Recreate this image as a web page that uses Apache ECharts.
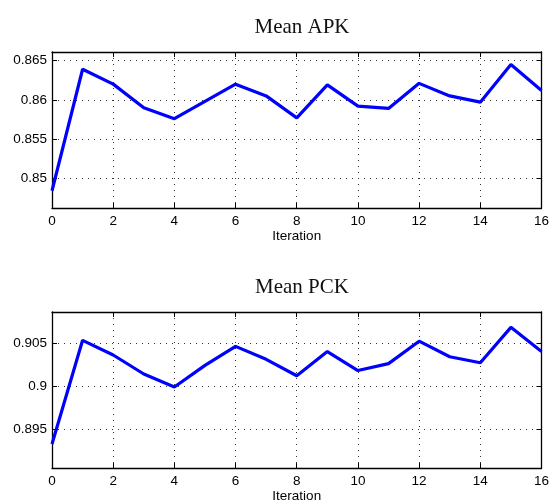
<!DOCTYPE html>
<html>
<head>
<meta charset="utf-8">
<script src="https://cdn.jsdelivr.net/npm/echarts@6/dist/echarts.min.js"></script>
<style>
  html, body { margin: 0; padding: 0; background: #fff; }
  #main { width: 552px; height: 504px; }
</style>
</head>
<body>
<div id="main"></div>
<script>
// iterations 0..16
var iterations = [0, 1, 2, 3, 4, 5, 6, 7, 8, 9, 10, 11, 12, 13, 14, 15, 16];
var meanAPK = [0.8484, 0.8639, 0.8620, 0.8590, 0.8576, 0.8598, 0.8620, 0.8605, 0.8577,
               0.8619, 0.8592, 0.8589, 0.8621, 0.8605, 0.8597, 0.8645, 0.8612];
var meanPCK = [0.8933, 0.9053, 0.9036, 0.9014, 0.8999, 0.9024, 0.9046, 0.9031, 0.9012,
               0.9040, 0.9018, 0.9026, 0.9052, 0.9034, 0.9027, 0.9068, 0.9040];
var titles = ['Mean APK', 'Mean PCK'];
var apkRange = [0.8462, 0.8661];
var pckRange = [0.8905, 0.90858];

var sans = 'Liberation Sans';
var dotted = { color: '#333', width: 1, type: [1, 5] };

function pairs(values) {
    return iterations.map(function (it, i) { return [it, values[i]]; });
}

function xAxes(gridIndex) {
    return [
        {
            gridIndex: gridIndex, type: 'value', min: 0, max: 16, interval: 2,
            position: 'bottom',
            name: 'Iteration', nameLocation: 'middle', nameGap: 19,
            nameTextStyle: { fontFamily: sans, fontSize: 13.5, color: '#000' },
            axisLine: { show: true, onZero: false, lineStyle: { color: '#000', width: 1.3 } },
            axisTick: { show: true, inside: true, length: 5, lineStyle: { color: '#000' } },
            axisLabel: { fontFamily: sans, fontSize: 13.5, color: '#000', margin: 6 },
            splitLine: { show: true, lineStyle: dotted }
        },
        {
            gridIndex: gridIndex, type: 'value', min: 0, max: 16, interval: 2,
            position: 'top',
            axisLine: { show: true, onZero: false, lineStyle: { color: '#000', width: 1.3 } },
            axisTick: { show: true, inside: true, length: 5, lineStyle: { color: '#000' } },
            axisLabel: { show: false },
            splitLine: { show: false }
        }
    ];
}

function yAxes(gridIndex, range) {
    return [
        {
            gridIndex: gridIndex, type: 'value', min: range[0], max: range[1], splitNumber: 4,
            position: 'left',
            axisLine: { show: true, onZero: false, lineStyle: { color: '#000', width: 1.3 } },
            axisTick: { show: true, inside: true, length: 5, lineStyle: { color: '#000' } },
            axisLabel: { fontFamily: sans, fontSize: 13.5, color: '#000', margin: 5,
                         showMinLabel: false, showMaxLabel: false },
            splitLine: { show: true, lineStyle: dotted }
        },
        {
            gridIndex: gridIndex, type: 'value', min: range[0], max: range[1], splitNumber: 4,
            position: 'right',
            axisLine: { show: true, onZero: false, lineStyle: { color: '#000', width: 1.3 } },
            axisTick: { show: true, inside: true, length: 5, lineStyle: { color: '#000' } },
            axisLabel: { show: false },
            splitLine: { show: false }
        }
    ];
}

var chart = echarts.init(document.getElementById('main'));

var option = {
    backgroundColor: '#fff',
    animation: false,
    title: [
        { text: titles[0], left: 297, top: 12, textAlign: 'center',
          textStyle: { fontFamily: 'Liberation Serif', fontSize: 21, fontWeight: 'normal', color: '#111' } },
        { text: titles[1], left: 297, top: 272, textAlign: 'center',
          textStyle: { fontFamily: 'Liberation Serif', fontSize: 21, fontWeight: 'normal', color: '#111' } }
    ],
    grid: [
        { left: 52, right: 8, top: 52, height: 156 },
        { left: 52, right: 8, top: 312, height: 157 }
    ],
    xAxis: xAxes(0).concat(xAxes(1)),
    yAxis: yAxes(0, apkRange).concat(yAxes(1, pckRange)),
    series: [
        {
            type: 'line', xAxisIndex: 0, yAxisIndex: 0,
            data: pairs(meanAPK), showSymbol: false,
            lineStyle: { color: '#0000ff', width: 3.2 }
        },
        {
            type: 'line', xAxisIndex: 2, yAxisIndex: 2,
            data: pairs(meanPCK), showSymbol: false,
            lineStyle: { color: '#0000ff', width: 3.2 }
        }
    ]
};

chart.setOption(option);
</script>
</body>
</html>
